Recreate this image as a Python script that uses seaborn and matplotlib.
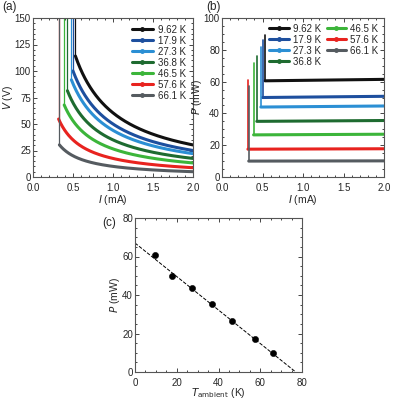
import numpy as np
import matplotlib
matplotlib.use("Agg")
import matplotlib.pyplot as plt
import seaborn as sns
from matplotlib.lines import Line2D

sns.set_style("ticks")
plt.rcParams['font.family'] = ['Liberation Sans', 'DejaVu Sans']
plt.rcParams['font.size'] = 7.5

labels = ["9.62 K", "17.9 K", "27.3 K", "36.8 K", "46.5 K", "57.6 K", "66.1 K"]
temps = [9.62, 17.9, 27.3, 36.8, 46.5, 57.6, 66.1]
i_th = [0.53, 0.50, 0.48, 0.43, 0.39, 0.32, 0.33]      # threshold current (mA)
p_plateau = [60.5, 50.0, 44.0, 35.0, 26.5, 17.5, 10.0]  # mW
p_peak = [89, 86, 82, 76, 72, 61, 57]                  # mW spike
p_c = [61, 50, 43.8, 35.2, 26.5, 17.3, 10.0]
fit_T = [0, 77]
fit_P = [67, 0]
colors = ["#111111", "#1d4f9e", "#2b8fd4", "#1e6b30", "#3cb53a", "#e8231f", "#555b60"]

fig = plt.figure(figsize=(4, 4), dpi=100)
axa = fig.add_axes([0.0825, 0.5575, 0.40, 0.3975])
axb = fig.add_axes([0.555, 0.5575, 0.405, 0.3975])
axc = fig.add_axes([0.3375, 0.07, 0.4175, 0.385])

for lab, i0, p, pk, c in zip(labels, i_th, p_plateau, p_peak, colors):
    I = np.linspace(i0, 2.0, 200)
    V = p / I
    axa.plot([i0, i0], [160, p / i0], color=c, lw=0.9)
    sns.lineplot(x=I, y=V, ax=axa, color=c, lw=2.2, estimator=None)
    axb.plot([i0, i0], [pk, p], color=c, lw=1.2)
    sns.lineplot(x=[i0, 2.0], y=[p, p * 1.015], ax=axb, color=c, lw=2.2, estimator=None)

for ax in (axa, axb):
    ax.set_xlim(0, 2.0)
    ax.set_xticks([0, 0.5, 1.0, 1.5, 2.0])
    ax.set_xticklabels(["0.0", "0.5", "1.0", "1.5", "2.0"])
    ax.set_xlabel("$I$ (mA)", labelpad=0)
axa.set_ylim(0, 150)
axa.set_yticks([0, 25, 50, 75, 100, 125, 150])
axa.set_ylabel("$V$ (V)", labelpad=0)
axb.set_ylim(0, 100)
axb.set_yticks([0, 20, 40, 60, 80, 100])
axb.set_ylabel("$P$ (mW)", labelpad=0)

def leg_handles():
    return [Line2D([], [], color=c, lw=2.2, marker="o", markersize=2.5) for c in colors]

axa.legend(leg_handles(), labels, loc="upper right", frameon=False, fontsize=7, handlelength=2.2,
           labelspacing=0.1, borderaxespad=0.3, handletextpad=0.5)
axb.legend(leg_handles(), labels, loc="upper right", frameon=False, fontsize=7, ncol=2, handlelength=2.0,
           labelspacing=0.1, borderaxespad=0.2, handletextpad=0.4, columnspacing=0.6)

axc.plot(fit_T, fit_P, ls="--", color="black", lw=0.7)
sns.scatterplot(x=temps, y=p_c, ax=axc, color="black", s=20, edgecolor="black", zorder=3)
axc.set_xlim(0, 80)
axc.set_ylim(0, 80)
axc.set_xticks([0, 20, 40, 60, 80])
axc.set_yticks([0, 20, 40, 60, 80])
axc.set_xlabel("$T_{\\mathrm{ambient}}$ (K)", labelpad=-1)
axc.set_ylabel("$P$ (mW)", labelpad=0)

for ax in (axa, axb, axc):
    ax.tick_params(direction="in", top=True, right=True, length=3, width=0.6, pad=1.5, labelsize=7)
    ax.tick_params(axis="x", pad=4)
    ax.minorticks_on()
    ax.tick_params(which="minor", direction="in", top=True, right=True, length=1.5)
    for s in ax.spines.values():
        s.set_linewidth(0.8)
        s.set_color("#555555")

fig.text(0.005, 0.975, "(a)", fontsize=8.5)
fig.text(0.515, 0.975, "(b)", fontsize=8.5)
fig.text(0.255, 0.435, "(c)", fontsize=8.5)

fig.savefig("out.png", dpi=100)
